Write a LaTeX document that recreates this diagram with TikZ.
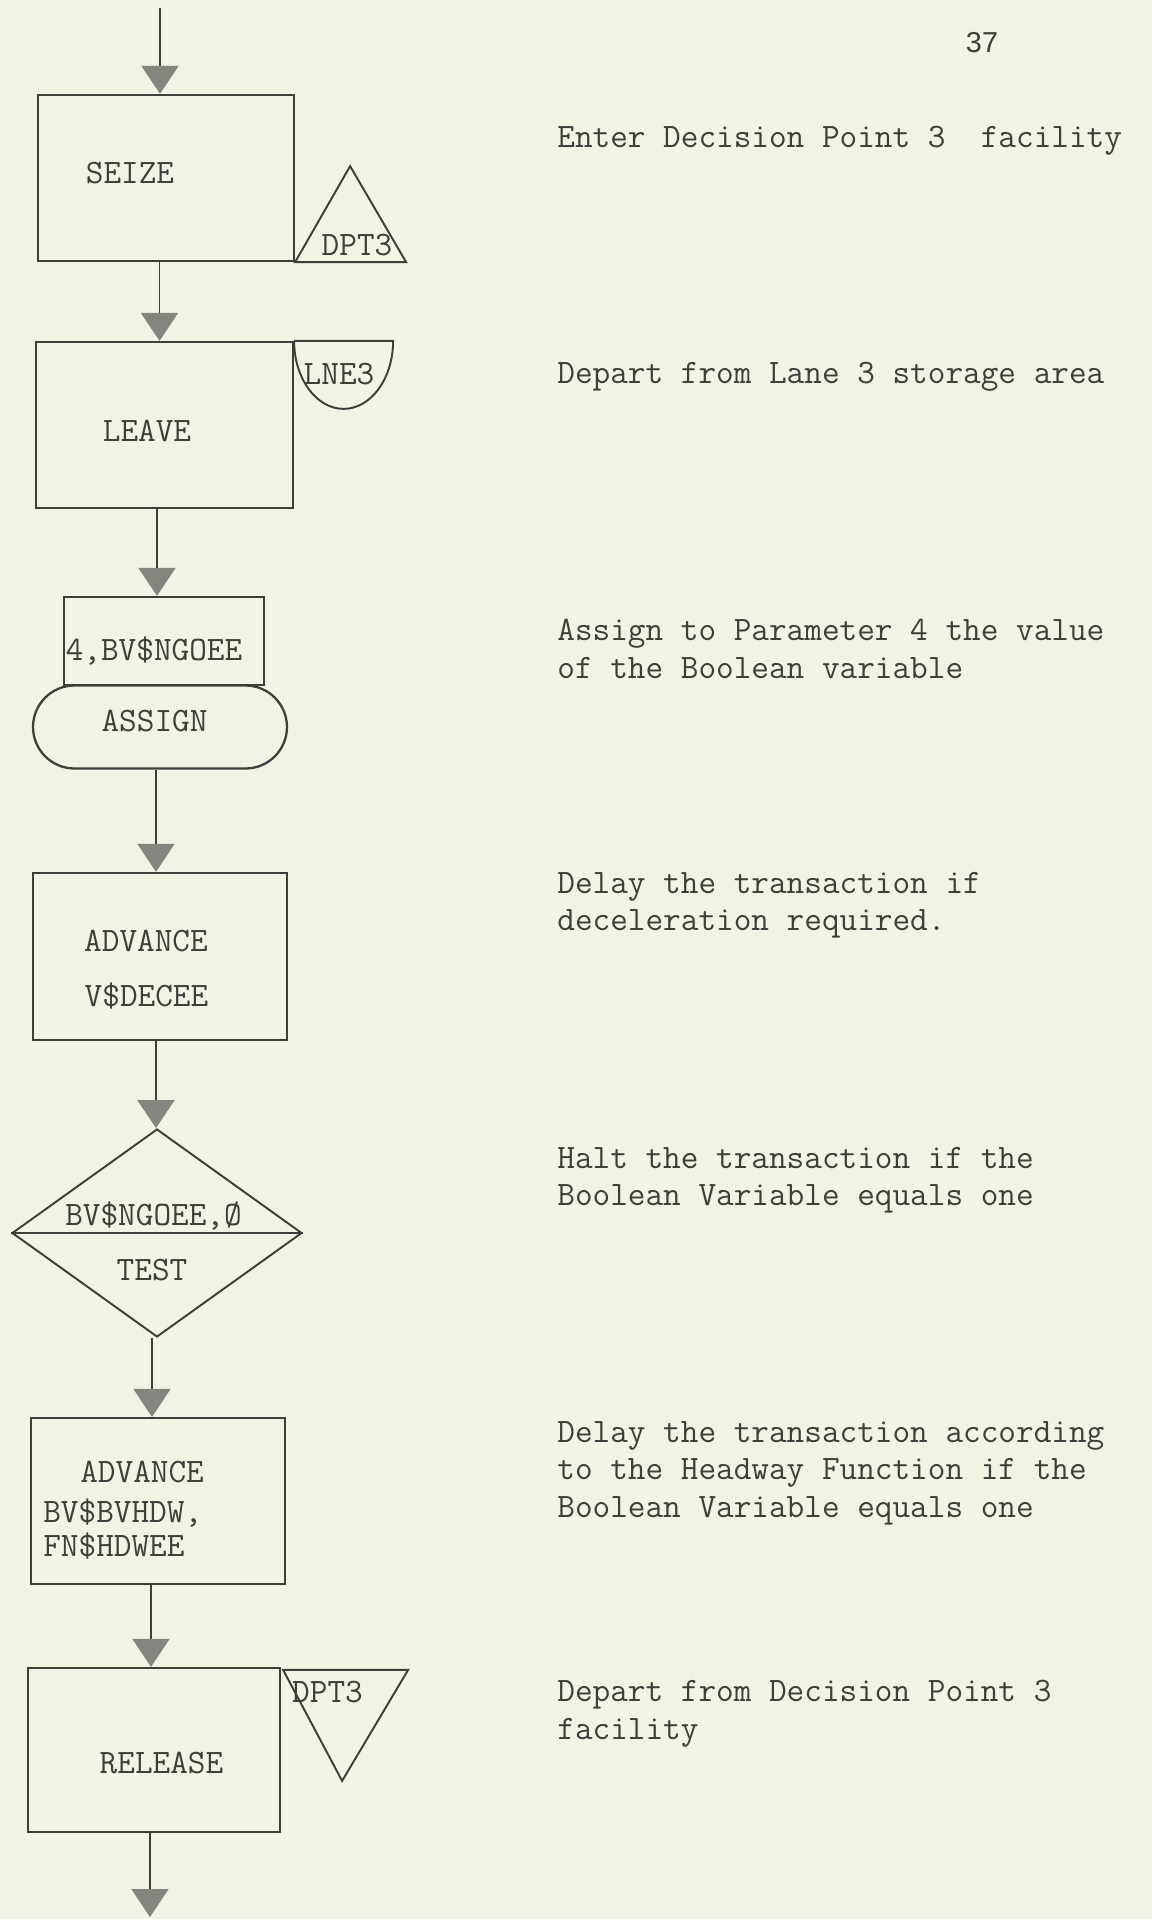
\documentclass[tikz,border=0pt]{standalone}
\usepackage{fontspec}
\newfontfamily\pagefont{Liberation Sans}
\usetikzlibrary{arrows.meta,shapes.geometric}

\definecolor{paper}{RGB}{241,243,228}
\definecolor{ink}{RGB}{62,62,58}
\definecolor{tipgray}{RGB}{132,133,126}

\tikzset{
  typed/.style={font=\fontsize{19.5}{21.3}\selectfont\ttfamily, text=ink, inner sep=0pt},
  blocklbl/.style={typed, text height=12pt, text depth=0pt},
  block/.style={draw=ink, line width=1.3pt, inner sep=0pt},
  symb/.style={draw=ink, line width=1.1pt},
  flow/.style={draw=ink, line width=1.1pt, -{Triangle[width=0.74cm,length=0.56cm,color=tipgray]}},
  note/.style={typed, align=left, anchor=north west},
}

\begin{document}
\begin{tikzpicture}[x=0.02cm, y=-0.02cm]
  % Page
  \fill[paper] (0,0) rectangle (1152,1919);
  \useasboundingbox (0,0) rectangle (1152,1919);
  \node[font=\pagefont\fontsize{16.4}{18}\selectfont, text=ink, inner sep=0pt] (page) at (982,43) {37};

  % Blocks
  \node[block, minimum width=5.12cm, minimum height=3.32cm] (seize) at (166,178) {};
  \node[block, minimum width=5.14cm, minimum height=3.32cm] (leave) at (164.5,425) {};
  \node[block, minimum width=4cm, minimum height=1.76cm] (asgtop) at (164,641) {};
  \node[block, rounded corners=0.83cm, minimum width=5.08cm, minimum height=1.66cm] (assign) at (160,727) {};
  \node[block, minimum width=5.08cm, minimum height=3.34cm] (adv1) at (160,956.5) {};
  \node[block, diamond, line width=1.1pt, minimum width=5.8cm, minimum height=4.16cm] (test) at (157,1233) {};
  \draw[symb] (test.west) -- (test.east);
  \node[block, minimum width=5.08cm, minimum height=3.32cm] (adv2) at (158,1501) {};
  \node[block, minimum width=5.04cm, minimum height=3.28cm] (release) at (154,1750) {};

  % Block texts
  \node[blocklbl] (seizetxt) at (130,173) {SEIZE};
  \node[blocklbl] (leavetxt) at (147,431) {LEAVE};
  \node[blocklbl] (asgtxt) at (154,650) {4,BV\$NGOEE};
  \node[blocklbl] (assigntxt) at (154.5,721) {ASSIGN};
  \node[blocklbl] (adv1a) at (146,941) {ADVANCE};
  \node[blocklbl] (adv1b) at (146.5,996) {V\$DECEE};
  \node[blocklbl] (testa) at (153.5,1215) {BV\$NGOEE,Ø};
  \node[blocklbl] (testb) at (152,1270) {TEST};
  \node[blocklbl, anchor=west] (adv2a) at (80,1472) {ADVANCE};
  \node[blocklbl, anchor=west] (adv2b) at (43,1512) {BV\$BVHDW,};
  \node[blocklbl, anchor=west] (adv2c) at (43,1546) {FN\$HDWEE};
  \node[blocklbl] (releasetxt) at (161.5,1763) {RELEASE};

  % Facility and storage marks
  \draw[symb] (seize.south east) -- ++(55,-96) -- ++(56,96) -- cycle;
  \node[blocklbl] (dptin) at (357,245) {DPT3};
  \draw[symb] (leave.north east) -- ++(99,0) arc[start angle=0, end angle=180, x radius=49.5, y radius=68];
  \node[blocklbl] (lne) at (339,374) {LNE3};
  \draw[symb] (release.north east) ++(2,3) -- ++(125,0) -- ++(-66,111) -- cycle;
  \node[blocklbl] (dptout) at (327.5,1692) {DPT3};

  % Flow
  \coordinate (in) at (160,8);
  \coordinate (c1) at ([xshift=-0.13cm]seize.south);
  \coordinate (c2) at ([xshift=-0.15cm]leave.south);
  \coordinate (c3) at ([xshift=-0.08cm]assign.south);
  \coordinate (c4) at ([xshift=-0.08cm]adv1.south);
  \coordinate (c5) at ([xshift=-0.1cm]test.south);
  \coordinate (c6) at ([xshift=-0.14cm]adv2.south);
  \coordinate (out) at (150,1917);
  \draw[flow] (in) -- (in |- seize.north);
  \draw[flow] (c1) -- (c1 |- leave.north);
  \draw[flow] (c2) -- (c2 |- asgtop.north);
  \draw[flow] (c3) -- (c3 |- adv1.north);
  \draw[flow] (c4) -- (c4 |- test.north);
  \draw[flow] (c5) -- (c5 |- adv2.north);
  \draw[flow] (c6) -- (c6 |- release.north);
  \draw[flow] (release.south -| out) -- (out);

  % Notes
  \node[note] (n1) at (557,126) {Enter Decision Point 3\ \ facility};
  \node[note] (n2) at (557,362) {Depart from Lane 3 storage area};
  \node[note] (n3) at (557,619) {Assign to Parameter 4 the value\\of the Boolean variable};
  \node[note] (n4) at (557,872) {Delay the transaction if\\deceleration required.};
  \node[note] (n5) at (557,1147) {Halt the transaction if the\\Boolean Variable equals one};
  \node[note] (n6) at (557,1421) {Delay the transaction according\\to the Headway Function if the\\Boolean Variable equals one};
  \node[note] (n7) at (557,1680) {Depart from Decision Point 3\\facility};
\end{tikzpicture}
\end{document}
